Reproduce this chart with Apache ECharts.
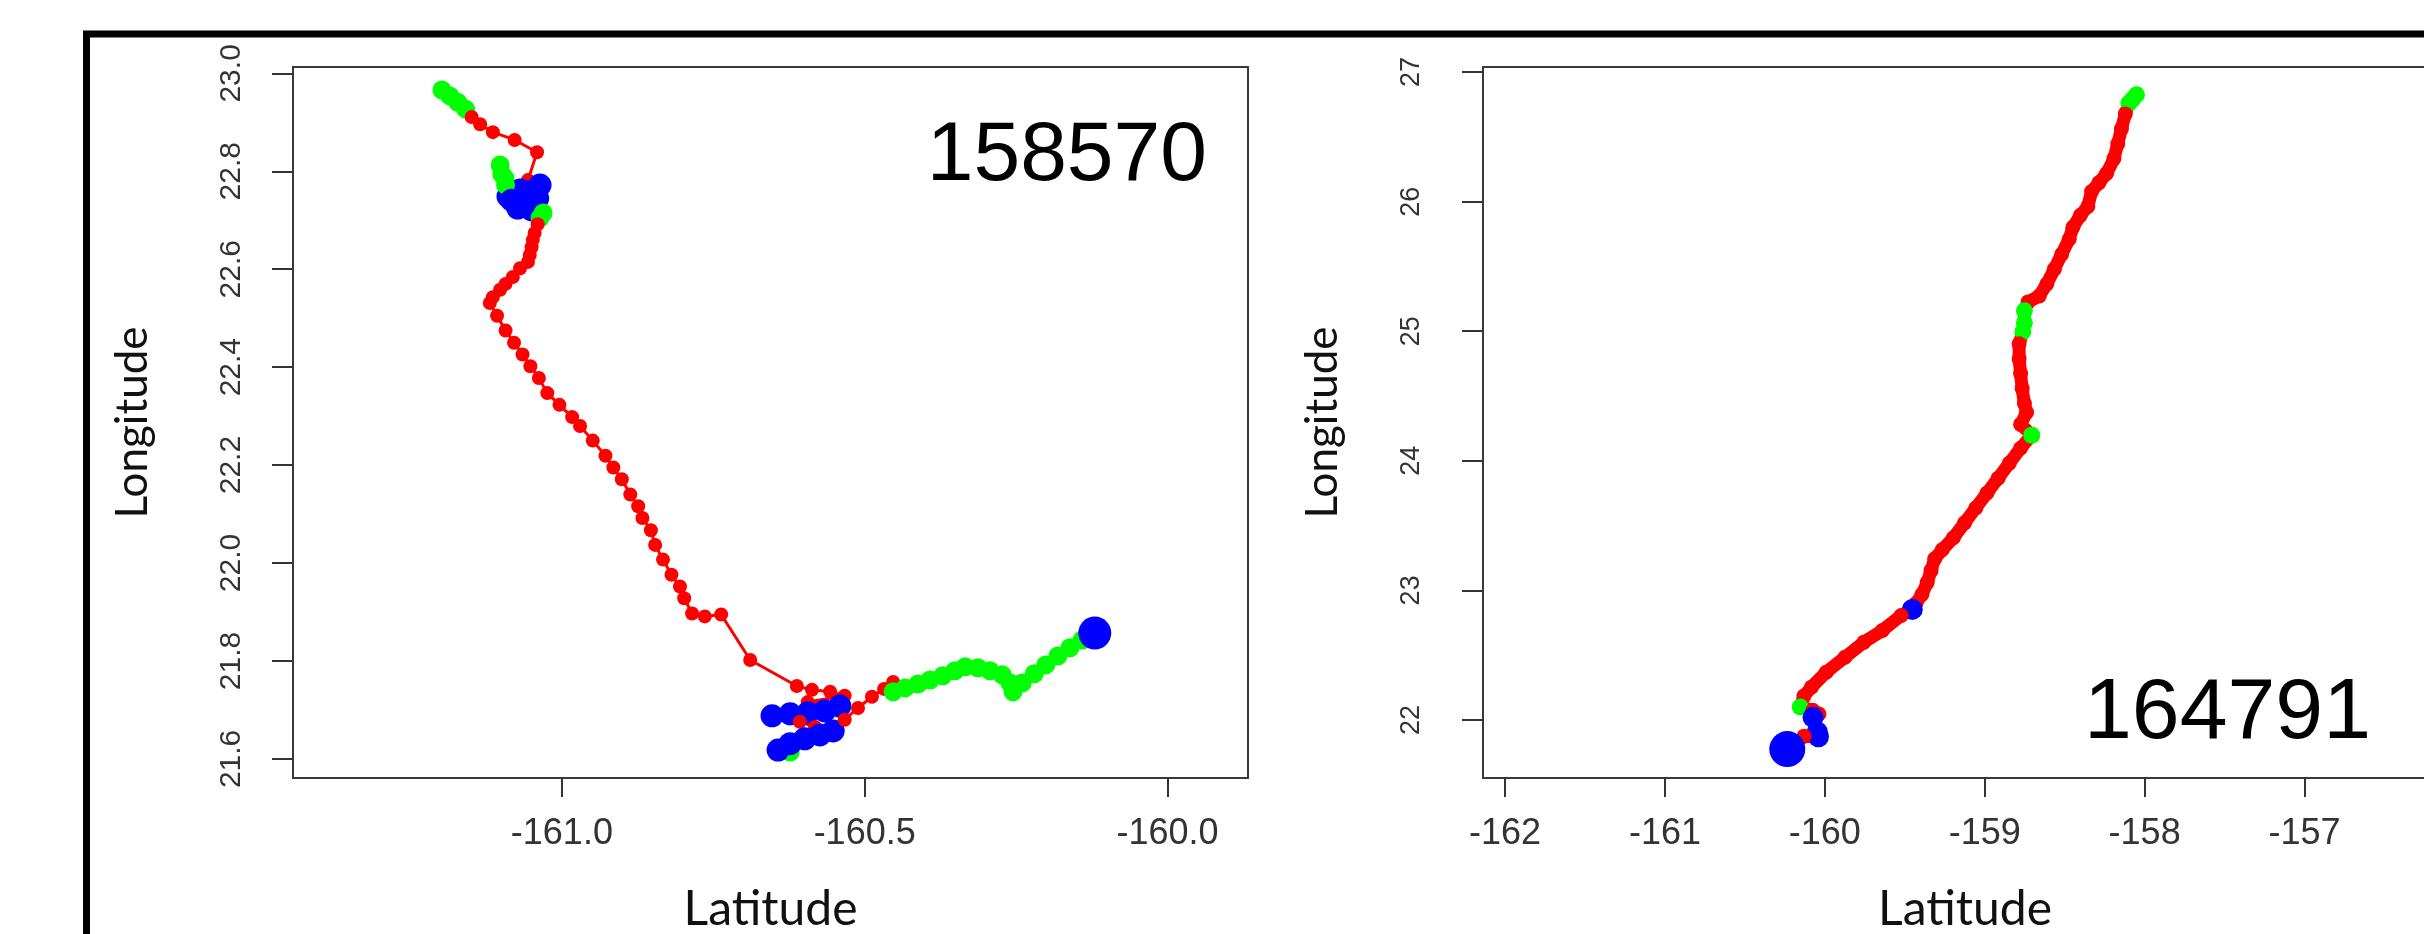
<!DOCTYPE html>
<html>
<head>
<meta charset="utf-8">
<title>Tracks 158570 / 164791</title>
<script src="https://cdn.jsdelivr.net/npm/echarts@6/dist/echarts.min.js"></script>
<style>
  html, body { margin: 0; padding: 0; background: #fff; }
  #chart { width: 2424px; height: 934px; }
</style>
</head>
<body>
<div id="chart"></div>
<script>
// track 158570 (left panel), points in time order, state r / g / b
const lon158570 = [
  -161.198, -161.185, -161.172, -161.159, -161.149, -161.135, -161.114, -161.078, -161.041, -161.056,
  -161.069, -161.089, -161.093, -161.099, -161.102, -161.094, -161.083, -161.061, -161.040, -161.036,
  -161.053, -161.073, -161.050, -161.031, -161.036, -161.040, -161.045, -161.048, -161.050, -161.053,
  -161.056, -161.069, -161.081, -161.093, -161.102, -161.114, -161.119, -161.107, -161.093, -161.079,
  -161.065, -161.052, -161.038, -161.024, -161.004, -160.983, -160.970, -160.949, -160.928, -160.915,
  -160.901, -160.887, -160.874, -160.867, -160.853, -160.846, -160.833, -160.819, -160.805, -160.798,
  -160.785, -160.764, -160.737, -160.689, -160.612, -160.587, -160.557, -160.533, -160.594, -160.541,
  -160.566, -160.594, -160.623, -160.653, -160.607, -160.582, -160.623, -160.643, -160.623, -160.599,
  -160.574, -160.552, -160.533, -160.511, -160.488, -160.468, -160.453, -160.453, -160.433, -160.412,
  -160.392, -160.371, -160.351, -160.334, -160.313, -160.293, -160.273, -160.260, -160.255, -160.240,
  -160.220, -160.201, -160.181, -160.161, -160.141, -160.120
];
const lat158570 = [
  22.966, 22.954, 22.941, 22.927, 22.911, 22.896, 22.880, 22.864, 22.839, 22.782,
  22.762, 22.749, 22.772, 22.794, 22.813, 22.786, 22.741, 22.731, 22.745, 22.772,
  22.758, 22.725, 22.721, 22.715, 22.705, 22.692, 22.674, 22.660, 22.645, 22.629,
  22.615, 22.602, 22.584, 22.570, 22.558, 22.543, 22.531, 22.505, 22.475, 22.450,
  22.426, 22.402, 22.378, 22.347, 22.323, 22.298, 22.280, 22.250, 22.219, 22.195,
  22.171, 22.140, 22.116, 22.092, 22.067, 22.037, 22.007, 21.976, 21.952, 21.928,
  21.897, 21.891, 21.895, 21.802, 21.749, 21.741, 21.737, 21.729, 21.716, 21.708,
  21.698, 21.694, 21.692, 21.688, 21.676, 21.665, 21.614, 21.618, 21.631, 21.641,
  21.649, 21.657, 21.680, 21.704, 21.727, 21.743, 21.757, 21.737, 21.745, 21.753,
  21.761, 21.770, 21.780, 21.788, 21.786, 21.780, 21.772, 21.755, 21.737, 21.755,
  21.774, 21.792, 21.810, 21.827, 21.843, 21.857
];
const state158570 = [
  'g','g','g','g','r','r','r','r','r','r',
  'b','b','g','g','g','g','b','b','b','b',
  'b','b','b','g','g','r','r','r','r','r',
  'r','r','r','r','r','r','r','r','r','r',
  'r','r','r','r','r','r','r','r','r','r',
  'r','r','r','r','r','r','r','r','r','r',
  'r','r','r','r','r','r','r','r','r','b',
  'b','b','b','b','r','r','g','b','b','b',
  'b','b','r','r','r','r','r','g','g','g',
  'g','g','g','g','g','g','g','g','g','g',
  'g','g','g','g','g','b'
];

// track 164791 (right panel)
const lon164791 = [
  -158.051, -158.075, -158.098, -158.121, -158.145, -158.168, -158.192, -158.238, -158.285, -158.332,
  -158.355, -158.402, -158.449, -158.472, -158.519, -158.565, -158.612, -158.659, -158.729, -158.752,
  -158.752, -158.762, -158.785, -158.785, -158.776, -158.766, -158.752, -158.738, -158.776, -158.706,
  -158.776, -158.846, -158.916, -158.986, -159.056, -159.126, -159.196, -159.266, -159.313, -159.336,
  -159.360, -159.393, -159.430, -159.453, -159.523, -159.640, -159.757, -159.874, -159.991, -160.084,
  -160.131, -160.154, -160.075, -160.037, -160.074, -160.047, -160.040, -160.130, -160.200, -160.235
];
const lat164791 = [
  26.825, 26.790, 26.760, 26.677, 26.562, 26.447, 26.332, 26.217, 26.147, 26.078,
  25.963, 25.894, 25.802, 25.710, 25.594, 25.479, 25.364, 25.272, 25.226, 25.157,
  25.065, 24.995, 24.903, 24.788, 24.673, 24.558, 24.442, 24.373, 24.281, 24.198,
  24.097, 23.982, 23.866, 23.751, 23.636, 23.521, 23.406, 23.313, 23.244, 23.152,
  23.060, 22.968, 22.899, 22.853, 22.806, 22.691, 22.599, 22.484, 22.369, 22.253,
  22.184, 22.100, 22.075, 22.046, 22.020, 21.908, 21.870, 21.875, 21.800, 21.775
];
const state164791 = [
  'g','g','g','r','r','r','r','r','r','r',
  'r','r','r','r','r','r','r','r','r','g',
  'g','g','r','r','r','r','r','r','r','g',
  'r','r','r','r','r','r','r','r','r','r',
  'r','r','r','b','r','r','r','r','r','r',
  'r','g','r','r','b','b','b','r','b','b'
];

// axis ticks
const xTicks158570 = [-161.0, -160.5, -160.0];
const yTicks158570 = [21.6, 21.8, 22.0, 22.2, 22.4, 22.6, 22.8, 23.0];
const xTicks164791 = [-162, -161, -160, -159, -158, -157];
const yTicks164791 = [22, 23, 24, 25, 26, 27];

const stateColor = { r: '#ff0000', g: '#00ff00', b: '#0000ff' };
const tickFont = "'Liberation Sans', Arial, sans-serif";
const titleFont = "Lato, 'Open Sans', sans-serif";

function trackSeries(lon, lat, state, idx, lineWidth, sizes, endSize) {
  const pts = lon.map((x, i) => [x, lat[i]]);
  const last = pts.length - 1;
  return [
    {
      type: 'line',
      xAxisIndex: idx,
      yAxisIndex: idx,
      data: pts,
      showSymbol: false,
      symbol: 'none',
      lineStyle: { color: '#ff0000', width: lineWidth },
      z: 1
    },
    {
      type: 'scatter',
      xAxisIndex: idx,
      yAxisIndex: idx,
      data: pts,
      symbol: 'circle',
      symbolSize(val, params) {
        if (params.dataIndex === last) return endSize;
        return sizes[state[params.dataIndex]];
      },
      itemStyle: {
        opacity: 1,
        color(params) {
          return stateColor[state[params.dataIndex]];
        }
      },
      z: 2
    }
  ];
}

function xAxisOpt(idx, min, max, ticks, fmt, labelSize) {
  return {
    type: 'value',
    gridIndex: idx,
    min: min,
    max: max,
    axisLine: { show: false },
    splitLine: { show: false },
    axisTick: { show: true, customValues: ticks, length: 19, lineStyle: { color: '#333', width: 2 } },
    axisLabel: {
      customValues: ticks,
      formatter: fmt,
      fontFamily: tickFont,
      fontSize: labelSize,
      color: '#333',
      margin: 38
    },
    name: 'Latitude',
    nameLocation: 'middle',
    nameGap: 108,
    nameTextStyle: { fontFamily: titleFont, fontSize: 48, color: '#111' }
  };
}

function yAxisOpt(idx, min, max, ticks, fmt, labelSize, margin) {
  return {
    type: 'value',
    gridIndex: idx,
    min: min,
    max: max,
    axisLine: { show: false },
    splitLine: { show: false },
    axisTick: { show: true, customValues: ticks, length: 21, lineStyle: { color: '#333', width: 2 } },
    axisLabel: {
      customValues: ticks,
      formatter: fmt,
      rotate: 90,
      fontFamily: tickFont,
      fontSize: labelSize,
      color: '#333',
      margin: margin
    },
    name: 'Longitude',
    nameLocation: 'middle',
    nameGap: 138,
    nameTextStyle: { fontFamily: titleFont, fontSize: 44, color: '#111' }
  };
}

const chart = echarts.init(document.getElementById('chart'), null, { renderer: 'canvas' });
chart.setOption({
  animation: false,
  backgroundColor: '#ffffff',
  grid: [
    { left: 293, top: 67, width: 955, height: 711, show: true, borderColor: '#3a3a3a', borderWidth: 2,
      backgroundColor: 'transparent', containLabel: false, outerBoundsMode: 'none' },
    { left: 1483, top: 67, width: 964, height: 711, show: true, borderColor: '#3a3a3a', borderWidth: 2,
      backgroundColor: 'transparent', containLabel: false, outerBoundsMode: 'none' }
  ],
  xAxis: [
    xAxisOpt(0, -161.444, -159.867, xTicks158570, v => v.toFixed(1), 36),
    xAxisOpt(1, -162.138, -156.109, xTicks164791, v => String(v), 36)
  ],
  yAxis: [
    yAxisOpt(0, 21.561, 23.013, yTicks158570, v => v.toFixed(1), 30, 46),
    yAxisOpt(1, 21.552, 27.039, yTicks164791, v => String(v), 27, 58)
  ],
  series: [
    ...trackSeries(lon158570, lat158570, state158570, 0, 3, { r: 14, g: 19, b: 23 }, 33),
    ...trackSeries(lon164791, lat164791, state164791, 1, 13, { r: 15, g: 17, b: 21 }, 36)
  ],
  graphic: [
    {
      type: 'rect',
      shape: { x: 86.5, y: 34, width: 2600, height: 1100 },
      style: { fill: 'none', stroke: '#000', lineWidth: 7 },
      silent: true,
      z: 100
    },
    {
      type: 'text',
      style: {
        text: '158570', x: 1207, y: 157,
        textAlign: 'right', textVerticalAlign: 'middle', align: 'right', verticalAlign: 'middle',
        font: "84px 'Liberation Sans', Arial, sans-serif", fill: '#000'
      },
      z: 100
    },
    {
      type: 'text',
      style: {
        text: '164791', x: 2371, y: 714,
        textAlign: 'right', textVerticalAlign: 'middle', align: 'right', verticalAlign: 'middle',
        font: "86px 'Liberation Sans', Arial, sans-serif", fill: '#000'
      },
      z: 100
    }
  ]
});
</script>
</body>
</html>
